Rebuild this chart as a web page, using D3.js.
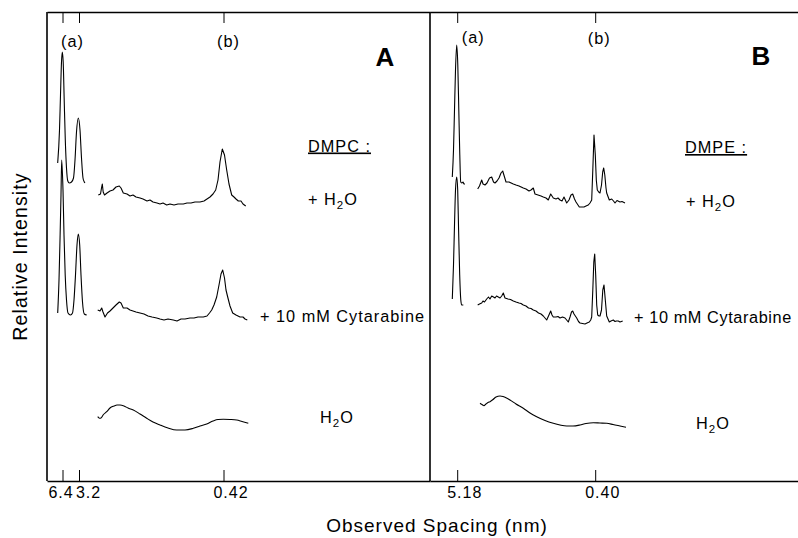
<!DOCTYPE html>
<html>
<head>
<meta charset="utf-8">
<script src="https://cdn.jsdelivr.net/npm/d3@7/dist/d3.min.js"></script>
<style>
  html, body { margin: 0; padding: 0; background: #fff; }
  svg text { font-family: "Liberation Sans", Arial, sans-serif; fill: #000; }
</style>
</head>
<body>
<svg id="chart" width="798" height="538"></svg>
<script>
// ---------- DATA (x: detector position, arbitrary units; y: relative intensity incl. stack offset) ----------
// Panel A : DMPC
const dmpcH2O_low = [[1.07,31.8],[1.25,35.1],[1.35,38.6],[1.45,41.9],[1.53,42.9],[1.62,41.9],[1.72,38.1],[1.83,34.1],[1.95,31.3],[2.08,30.0],[2.23,29.8],[2.45,29.9],[2.65,30.3],[2.8,32.1],[2.95,34.9],[3.13,36.3],[3.3,35.1],[3.45,32.3],[3.6,30.3],[3.73,29.9],[3.8,29.8]];
const dmpcH2O_wide = [[5.13,28.6],[5.35,28.7],[5.45,29.3],[5.53,29.7],[5.62,28.9],[5.75,28.6],[6.0,28.8],[6.3,29.0],[6.6,29.1],[6.9,29.4],[7.23,29.5],[7.4,29.3],[7.63,28.8],[8.0,28.7],[8.3,28.5],[8.6,28.6],[8.9,28.4],[9.3,28.3],[9.6,28.2],[10.0,28.0],[10.3,28.1],[10.6,27.9],[11.0,27.8],[11.3,27.7],[11.6,27.8],[11.97,27.6],[12.3,27.7],[12.7,27.6],[13.1,27.7],[13.63,27.7],[14.0,27.8],[14.4,27.8],[14.8,27.9],[15.3,27.9],[15.7,28.0],[16.0,28.2],[16.3,28.4],[16.6,28.7],[16.87,29.1],[17.1,30.1],[17.3,31.9],[17.53,33.2],[17.75,32.6],[17.97,31.1],[18.2,29.7],[18.47,28.6],[18.7,28.4],[18.9,28.2],[19.13,28.0],[19.4,28.0],[19.6,27.7],[19.87,27.5]];
const dmpcCyt_low = [[1.07,16.8],[1.2,20.1],[1.3,24.1],[1.4,28.6],[1.47,32.1],[1.6,29.1],[1.7,24.6],[1.82,20.6],[1.95,18.1],[2.1,16.8],[2.35,16.6],[2.55,16.8],[2.7,18.1],[2.85,20.6],[3.0,23.6],[3.13,24.7],[3.27,23.6],[3.4,20.6],[3.55,17.9],[3.73,16.7],[3.97,16.6]];
const dmpcCyt_wide = [[5.07,17.1],[5.3,17.0],[5.47,17.3],[5.6,16.9],[5.8,16.4],[6.05,16.8],[6.3,17.0],[6.6,17.3],[6.9,17.6],[7.23,17.9],[7.4,17.8],[7.63,17.3],[8.0,17.3],[8.3,17.1],[8.6,17.0],[8.9,16.9],[9.3,16.8],[9.7,16.7],[10.1,16.5],[10.5,16.4],[10.97,16.3],[11.3,16.2],[11.7,16.1],[12.1,16.2],[12.63,16.1],[13.0,16.0],[13.4,16.2],[13.8,16.2],[14.3,16.3],[14.7,16.3],[15.1,16.4],[15.63,16.4],[16.0,16.5],[16.25,16.8],[16.47,17.1],[16.7,17.6],[16.97,18.4],[17.2,19.6],[17.4,20.7],[17.57,21.1],[17.75,20.3],[17.9,19.1],[18.07,18.4],[18.3,17.5],[18.57,16.8],[18.9,16.6],[19.3,16.4],[19.6,16.4],[19.8,16.2],[20.03,16.1]];
const dmpcWater = [[5.07,6.43],[5.25,6.27],[5.4,6.3],[5.65,6.65],[5.97,6.93],[6.3,7.3],[6.7,7.5],[7.0,7.6],[7.3,7.6],[7.7,7.5],[8.1,7.3],[8.63,7.1],[9.3,6.7],[9.97,6.27],[10.6,5.9],[11.3,5.6],[12.1,5.3],[12.97,5.1],[13.8,5.1],[14.63,5.27],[15.3,5.5],[15.97,5.7],[16.6,6.0],[17.1,6.15],[17.63,6.17],[18.3,6.15],[18.97,6.1],[19.5,5.95],[20.13,5.77]];

// Panel B : DMPE
const dmpeH2O_low = [[2.23,30.4],[2.35,33.1],[2.45,37.1],[2.55,41.1],[2.67,43.6],[2.78,41.6],[2.88,37.1],[2.98,32.6],[3.07,29.9],[3.2,29.8],[3.3,29.9],[3.4,29.7],[3.5,29.7]];
const dmpeH2O_wide = [[4.77,29.2],[4.95,29.5],[5.17,30.1],[5.3,29.7],[5.5,29.6],[5.7,29.8],[5.95,30.3],[6.17,30.4],[6.35,29.9],[6.5,29.8],[6.7,30.0],[6.9,30.3],[7.1,30.8],[7.27,31.0],[7.45,30.4],[7.6,29.9],[7.9,29.9],[8.33,29.7],[8.6,29.6],[8.9,29.5],[9.33,29.3],[9.6,29.2],[9.9,29.0],[10.1,29.1],[10.33,29.3],[10.5,28.7],[10.8,28.6],[11.1,28.5],[11.33,28.4],[11.6,28.3],[11.83,28.1],[12.07,28.7],[12.33,28.3],[12.6,28.2],[12.8,28.3],[13.0,28.1],[13.2,28.0],[13.4,28.4],[13.67,27.8],[13.9,28.1],[14.1,28.6],[14.27,28.7],[14.45,28.2],[14.6,27.9],[14.93,27.4],[15.2,27.4],[15.4,27.4],[15.6,27.5],[15.83,27.6],[16.0,27.8],[16.17,28.1],[16.28,31.1],[16.4,34.6],[16.53,32.6],[16.63,30.1],[16.73,29.1],[16.87,28.9],[17.0,28.8],[17.15,29.6],[17.27,30.9],[17.37,31.3],[17.48,30.6],[17.6,29.3],[17.67,28.8],[17.93,28.1],[18.17,28.2],[18.35,28.0],[18.5,27.8],[18.7,28.05],[19.0,27.9],[19.2,27.95],[19.5,27.8]];
const dmpeCyt_low = [[2.23,18.2],[2.35,21.6],[2.45,25.6],[2.55,29.1],[2.67,30.4],[2.77,29.1],[2.86,25.1],[2.97,20.6],[3.08,18.1],[3.17,17.6],[3.33,17.6]];
const dmpeCyt_wide = [[4.77,17.6],[4.95,17.7],[5.17,17.8],[5.3,18.0],[5.45,17.9],[5.67,18.2],[5.85,18.4],[6.0,18.2],[6.17,18.5],[6.35,18.4],[6.5,18.3],[6.65,18.5],[6.83,18.4],[7.0,18.3],[7.17,18.5],[7.33,18.8],[7.5,18.3],[7.8,18.2],[8.05,18.15],[8.33,18.0],[8.6,17.9],[8.9,17.8],[9.1,17.75],[9.33,17.6],[9.6,17.5],[9.85,17.3],[10.1,17.25],[10.33,17.1],[10.6,17.0],[10.85,16.8],[11.1,16.7],[11.33,16.5],[11.5,16.3],[11.67,16.1],[11.85,16.5],[12.07,17.0],[12.2,16.6],[12.33,16.4],[12.6,16.4],[12.8,16.45],[13.0,16.3],[13.25,16.4],[13.5,16.3],[13.83,15.9],[14.0,16.4],[14.15,16.9],[14.27,17.0],[14.4,16.7],[14.67,16.3],[14.85,15.95],[15.0,15.8],[15.25,15.75],[15.5,15.7],[15.7,15.8],[15.93,15.9],[16.07,16.1],[16.17,16.4],[16.28,19.1],[16.38,21.9],[16.47,22.7],[16.57,20.6],[16.67,17.6],[16.77,16.6],[16.9,16.5],[17.0,16.5],[17.15,17.1],[17.28,19.1],[17.4,19.6],[17.53,18.1],[17.67,16.5],[17.8,16.2],[17.93,15.9],[18.1,16.0],[18.33,16.1],[18.5,15.95],[18.65,16.0],[18.83,16.0],[19.0,15.9],[19.27,16.0]];
const dmpeWater = [[5.0,7.77],[5.2,7.65],[5.4,7.53],[5.6,7.7],[5.8,7.85],[6.0,7.93],[6.3,8.15],[6.6,8.4],[7.0,8.5],[7.3,8.45],[7.65,8.3],[8.0,8.1],[8.6,7.7],[9.33,7.27],[10.0,6.8],[10.67,6.43],[11.5,6.05],[12.33,5.77],[13.0,5.6],[13.67,5.5],[14.3,5.5],[15.0,5.6],[15.6,5.75],[16.33,5.83],[17.0,5.8],[17.67,5.77],[18.3,5.65],[19.0,5.5],[19.6,5.37]];

// Ticks
const dmpcTickPos = [1.55, 3.2, 17.65];
const dmpcTickLabels = ["6.4", "3.2", "0.42"];
const dmpeTickPos = [2.72, 16.52];
const dmpeTickLabels = ["5.18", "0.40"];
const peakLabelsA = ["(a)", "(b)"];
const peakLabelsB = ["(a)", "(b)"];

// Texts
const panelNames = ["A", "B"];
const lipidNames = ["DMPC :", "DMPE :"];

// ---------- DRAWING ----------
const svg = d3.select("#chart");
const yTop = 12, yBottom = 481;
const font = '"Liberation Sans", Arial, sans-serif';
const FS = 16.3;

const y = d3.scaleLinear().domain([0, 46.9]).range([yBottom, yTop]);
const xA = d3.scaleLinear().domain([0, 38.3]).range([47, 430]);
const xB = d3.scaleLinear().domain([0, 36.8]).range([430, 798]);

function drawTrace(x, data, smooth) {
  const line = d3.line().x(d => x(d[0])).y(d => y(d[1]))
    .curve(smooth ? d3.curveMonotoneX : d3.curveLinear);
  svg.append("path").datum(data).attr("d", line)
    .attr("fill", "none").attr("stroke", "#000").attr("stroke-width", 1.1)
    .attr("stroke-linejoin", "round");
}

drawTrace(xA, dmpcH2O_low, true);
drawTrace(xA, dmpcH2O_wide, false);
drawTrace(xA, dmpcCyt_low, true);
drawTrace(xA, dmpcCyt_wide, false);
drawTrace(xA, dmpcWater, true);
drawTrace(xB, dmpeH2O_low, true);
drawTrace(xB, dmpeH2O_wide, false);
drawTrace(xB, dmpeCyt_low, true);
drawTrace(xB, dmpeCyt_wide, false);
drawTrace(xB, dmpeWater, true);

// Axes
function drawAxes(x, pos, labels, offsets) {
  const fmt = (d, i) => labels[i];
  const gb = svg.append("g").attr("transform", `translate(0,${yBottom})`)
    .call(d3.axisBottom(x).tickValues(pos).tickSize(-11).tickSizeOuter(0).tickFormat(fmt));
  gb.select(".domain").attr("stroke-width", 1.6);
  gb.selectAll(".tick line").attr("stroke-width", 1);
  gb.selectAll(".tick text").attr("font-family", font).attr("font-size", 16)
    .attr("letter-spacing", 1).attr("y", 17).attr("dy", 0)
    .attr("dx", (d, i) => offsets[i]);
  const gt = svg.append("g").attr("transform", `translate(0,${yTop})`)
    .call(d3.axisTop(x).tickValues(pos).tickSize(-11).tickSizeOuter(0).tickFormat(""));
  gt.select(".domain").attr("stroke-width", 1.6);
  gt.selectAll(".tick line").attr("stroke-width", 1);
}
drawAxes(xA, dmpcTickPos, dmpcTickLabels, [-2, 9, 7]);
drawAxes(xB, dmpeTickPos, dmpeTickLabels, [7, 7]);

// vertical frame lines
svg.append("line").attr("x1", 47).attr("x2", 47).attr("y1", yTop).attr("y2", yBottom)
  .attr("stroke", "#000").attr("stroke-width", 1.6);
svg.append("line").attr("x1", 430).attr("x2", 430).attr("y1", yTop).attr("y2", yBottom)
  .attr("stroke", "#000").attr("stroke-width", 1.6);

// helper for text
function txt(x, yy, s, opts = {}) {
  const t = svg.append("text").attr("x", x).attr("y", yy)
    .attr("font-size", opts.size || FS)
    .attr("letter-spacing", opts.ls == null ? 1 : opts.ls)
    .attr("text-anchor", opts.anchor || "start")
    .attr("font-weight", opts.bold ? "bold" : "normal");
  if (opts.underline) t.attr("text-decoration", "underline");
  t.text(s);
  return t;
}
function h2o(x, yy, prefix) {
  const t = svg.append("text").attr("x", x).attr("y", yy)
    .attr("font-size", FS).attr("letter-spacing", 1);
  t.append("tspan").text(prefix + "H");
  t.append("tspan").attr("font-size", 11.5).attr("dy", 4).text("2");
  t.append("tspan").attr("dy", -4).text("O");
}

// peak labels
txt(xA(dmpcTickPos[0] + 1.0), 47, peakLabelsA[0], {anchor: "middle"});
txt(xA(dmpcTickPos[2] + 0.5), 47, peakLabelsA[1], {anchor: "middle"});
txt(xB(dmpeTickPos[0] + 1.6), 43, peakLabelsB[0], {anchor: "middle"});
txt(xB(dmpeTickPos[1] + 0.4), 44, peakLabelsB[1], {anchor: "middle"});

// panel letters
txt(385, 66, panelNames[0], {size: 26, bold: true, anchor: "middle", ls: 0});
txt(761, 65, panelNames[1], {size: 26, bold: true, anchor: "middle", ls: 0});

// lipid names
txt(308, 151.5, lipidNames[0], {underline: true});
txt(685, 153, lipidNames[1], {underline: true});

// conditions
h2o(308, 205, "+ ");
h2o(686, 207, "+ ");
txt(260, 322, "+ 10 mM Cytarabine");
txt(634, 323, "+ 10 mM Cytarabine", {ls: 0.6});
h2o(320, 423, "");
h2o(696, 429, "");

// axis titles
svg.append("text").attr("x", 437).attr("y", 532).attr("text-anchor", "middle")
  .attr("font-size", 19).attr("letter-spacing", 1).text("Observed Spacing (nm)");
svg.append("text").attr("transform", "translate(27,256.5) rotate(-90)")
  .attr("text-anchor", "middle").attr("font-size", 19.5).attr("letter-spacing", 1.1)
  .text("Relative Intensity");
</script>
</body>
</html>
